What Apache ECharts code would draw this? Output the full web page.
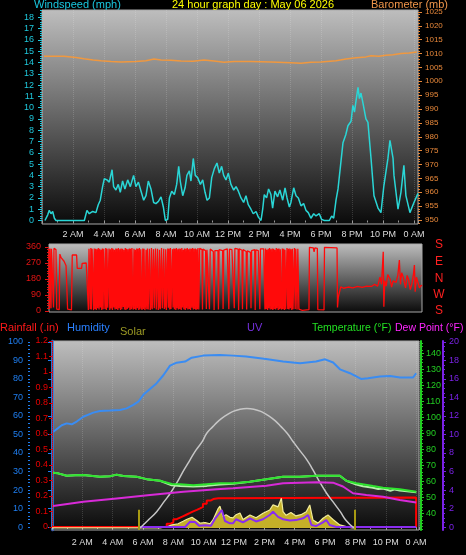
<!DOCTYPE html>
<html><head><meta charset="utf-8">
<script src="https://cdn.jsdelivr.net/npm/echarts@6/dist/echarts.min.js"></script>
<style>html,body{margin:0;padding:0;background:#000;}#c{width:466px;height:555px;}</style>
</head><body><div id="c"></div><script>
// ---- tick labels ----
const hourLabels = ['2 AM','4 AM','6 AM','8 AM','10 AM','12 PM','2 PM','4 PM','6 PM','8 PM','10 PM','0 AM'];
const windLabels = [0,1,2,3,4,5,6,7,8,9,10,11,12,13,14,15,16,17,18];
const baroLabels = [950,955,960,965,970,975,980,985,990,995,1000,1005,1010,1015,1020,1025];
const dirLabels = [0,90,180,270,360];
const dirLetters = ['S','E','N','W','S'];
const humLabels = [0,10,20,30,40,50,60,70,80,90,100];
const rainLabels = [0,0.1,0.2,0.3,0.4,0.5,0.6,0.7,0.8,0.9,1,1.1,1.2];
const tempLabels = [40,50,60,70,80,90,100,110,120,130,140];
const uvLabels = [0,2,4,6,8,10,12,14,16,18,20];

// ---- series values [hour, value] ----
const windSpeed = [[0.19,0],[0.37,0.5],[0.47,0.9],[0.58,0.6],[0.69,0.8],[0.80,0.2],[0.90,0],[2.73,0],[2.90,0.9],[3.05,0.6],[3.27,0.8],[3.48,0.7],[3.63,1.4],[3.76,1.8],[3.91,3.0],[4.02,3.7],[4.19,3.6],[4.34,3.4],[4.52,4.5],[4.62,3.0],[4.77,2.7],[4.92,3.2],[5.05,2.5],[5.20,3.5],[5.35,2.8],[5.53,3.6],[5.70,3.0],[5.91,4.0],[6.06,3.0],[6.22,3.4],[6.39,2.6],[6.56,1.8],[6.71,2.2],[6.86,3.5],[7.03,2.8],[7.20,1.6],[7.35,1.5],[7.51,1.7],[7.68,2.1],[7.83,1.2],[7.96,0],[8.11,0.1],[8.22,2.0],[8.37,2.6],[8.54,2.3],[8.69,3.2],[8.82,4.8],[8.92,3.5],[9.08,2.2],[9.23,2.9],[9.35,4.0],[9.51,4.4],[9.61,3.5],[9.76,5.5],[9.89,4.0],[10.04,3.8],[10.22,3.2],[10.37,3.6],[10.52,2.5],[10.65,1.8],[10.80,2.0],[10.95,3.8],[11.12,4.6],[11.29,5.1],[11.44,4.2],[11.59,4.8],[11.72,4.0],[11.87,3.6],[12.02,4.2],[12.19,3.2],[12.37,2.7],[12.52,3.0],[12.67,2.6],[12.84,2.0],[13.01,1.6],[13.16,2.2],[13.31,1.4],[13.48,1.0],[13.63,0.6],[13.81,0.8],[13.96,0.3],[14.13,0],[14.24,1.0],[14.34,2.3],[14.49,2.0],[14.62,2.8],[14.77,2.3],[14.88,1.1],[15.03,2.6],[15.20,2.1],[15.35,2.7],[15.53,1.8],[15.68,2.9],[15.81,2.0],[15.96,1.2],[16.06,1.6],[16.24,2.9],[16.39,2.2],[16.54,2.0],[16.71,1.3],[16.88,1.5],[17.03,0.9],[17.18,0.7],[17.35,0.2],[17.53,0.6],[17.68,0.4],[17.89,0.6],[18.04,0.1],[18.22,0],[18.54,0],[18.69,0.4],[18.82,0.2],[18.97,1.8],[19.10,2.8],[19.42,6.9],[19.60,7.6],[19.74,8.4],[19.94,8.8],[20.06,10.2],[20.16,9.6],[20.26,10.6],[20.39,11.8],[20.48,10.8],[20.58,11.3],[20.71,10.4],[20.90,9.0],[21.03,8.7],[21.23,5.5],[21.42,2.2],[21.68,1.1],[21.87,0.7],[22.06,3.1],[22.32,5.5],[22.45,7.1],[22.65,5.5],[22.71,4.0],[22.97,1.0],[23.16,2.5],[23.35,4.9],[23.48,2.2],[23.74,0.7],[24.00,1.6],[24.26,2.4]];

const barometer = [[0.13,1009.0],[1.42,1009.0],[2.2,1008.6],[2.71,1008.1],[3.3,1007.7],[3.81,1007.4],[4.45,1007.1],[5.1,1007.0],[6.06,1007.1],[6.7,1007.4],[7.23,1008.0],[7.68,1007.7],[8.32,1007.6],[8.97,1007.3],[9.74,1007.2],[10.45,1007.7],[11.1,1007.3],[11.74,1006.9],[12.39,1007.1],[13.48,1007.1],[14.77,1007.0],[16.06,1006.7],[16.71,1006.5],[17.35,1006.9],[18.0,1007.0],[18.97,1007.4],[19.61,1008.0],[20.26,1008.5],[20.9,1008.8],[21.23,1009.2],[21.74,1009.0],[22.19,1009.4],[22.65,1009.6],[23.16,1010.0],[23.68,1010.2],[24.19,1010.6]];

const windDir = [[0.00,350],[0.03,12],[0.06,352],[0.10,345],[0.13,15],[0.16,350],[0.26,340],[0.29,20],[0.32,352],[0.45,345],[0.50,10],[0.66,8],[0.70,320],[0.78,300],[0.90,296],[0.97,280],[1.10,255],[1.16,250],[1.20,10],[1.45,6],[1.50,315],[1.78,315],[1.82,240],[2.10,240],[2.14,268],[2.40,270],[2.48,280],
[2.54,6],[2.58,350],[2.62,352],[2.66,10],[2.70,355],[2.74,8],[2.78,350],[2.84,345],[2.88,5],[2.92,352],[2.97,12],[3.01,350],[3.05,6],[3.10,348],[3.14,15],[3.18,355],[3.23,8],[3.27,350],[3.32,20],[3.36,345],[3.40,6],[3.44,352],[3.49,10],[3.53,350],[3.57,340],[3.61,12],[3.66,355],[3.70,5],[3.74,350],[3.79,18],[3.83,8],[3.87,352],[3.92,6],[3.96,348],[4.00,14],[4.05,355],[4.09,5],[4.13,350],[4.18,20],[4.22,345],[4.26,8],[4.31,352],[4.35,12],[4.39,350],[4.44,6],[4.48,355],[4.52,15],[4.57,348],[4.61,5],[4.65,352],[4.70,10],[4.74,350],[4.79,22],[4.83,345],[4.87,8],[4.92,355],[4.96,6],[5.00,350],[5.05,12],[5.09,348],[5.13,18],[5.18,352],[5.22,5],[5.26,350],[5.31,10],[5.35,355],[5.40,25],[5.44,8],[5.48,350],[5.53,12],[5.57,345],[5.61,6],[5.66,352],[5.70,15],[5.74,350],[5.79,5],[5.83,355],[5.87,10],[5.92,348],[5.96,20],[6.00,6],[6.05,352],[6.09,12],[6.13,350],[6.18,5],[6.22,25],[6.26,345],[6.31,10],[6.35,352],[6.40,8],[6.44,15],[6.48,350],[6.53,6],[6.57,20],[6.61,355],[6.66,10],[6.70,5],[6.74,348],[6.79,15],[6.83,25],[6.87,352],[6.92,8],[6.96,12],[7.00,350],[7.05,6],[7.09,20],[7.13,345],[7.18,10],[7.22,5],[7.26,355],[7.31,15],[7.35,8],[7.40,350],[7.44,12],[7.48,25],[7.53,348],[7.57,6],[7.61,10],[7.66,352],[7.70,18],[7.74,350],[7.79,8],[7.83,355],[7.87,12],[7.92,5],[7.96,348],[8.00,20],[8.05,352],[8.09,10],[8.13,350],[8.18,6],[8.22,355],[8.26,15],[8.31,348],[8.35,8],[8.39,352],[8.44,12],[8.48,350],[8.53,5],[8.57,355],[8.61,20],[8.66,345],[8.70,10],[8.74,352],[8.79,6],[8.83,350],[8.87,15],[8.92,355],[8.96,8],[9.00,348],[9.05,12],[9.09,352],[9.13,5],[9.18,350],[9.22,18],[9.26,355],[9.31,8],[9.35,350],[9.40,12],[9.44,352],[9.48,6],[9.53,348],[9.57,10],[9.61,355],[9.66,8],[9.72,352],
[9.87,345],[9.90,8],[9.93,348],[10.1,340],[10.15,12],[10.19,345],[10.3,350],[10.35,10],[10.4,348],[10.6,335],[10.65,6],[10.7,340],[10.9,340],[10.93,8],[10.97,345],[11.2,340],[11.23,12],[11.27,342],[11.5,350],[11.6,10],[11.64,348],[11.8,345],[11.95,15],[11.99,352],[12.2,348],[12.23,6],[12.27,350],[12.45,342],[12.48,10],[12.52,345],[12.72,335],[12.75,8],[12.79,338],[13.0,330],[13.03,15],[13.07,340],[13.27,345],[13.3,6],[13.34,344],[13.5,340],[13.6,10],[13.64,350],[13.85,350],
[13.90,348],[13.93,8],[13.97,352],[14.01,12],[14.05,345],[14.10,6],[14.14,350],[14.18,15],[14.23,355],[14.27,8],[14.31,348],[14.36,10],[14.40,352],[14.44,5],[14.49,350],[14.53,12],[14.57,345],[14.62,8],[14.66,355],[14.70,15],[14.75,350],[14.79,6],[14.83,352],[14.88,10],[14.92,348],[14.96,20],[15.01,8],[15.05,352],[15.09,12],[15.14,350],[15.18,5],[15.22,345],[15.27,10],[15.31,6],[15.35,355],[15.40,12],[15.44,350],[15.48,8],[15.53,352],[15.57,15],[15.61,348],[15.66,6],[15.70,350],[15.74,10],[15.79,5],[15.83,355],[15.88,12],[15.92,350],[15.98,340],[16.00,8],[16.05,350],[16.09,345],[16.12,10],[16.34,4],[16.38,6],[16.77,8],[16.8,358],[17.05,355],[17.1,333],[17.15,355],[17.31,352],[17.34,8],[17.74,6],[17.77,358],[18.58,355],[18.61,20],[18.66,75],[18.72,100],[18.82,136],[19.0,128],[19.3,135],[19.6,130],[19.9,138],[20.2,133],[20.5,140],[20.8,138],[21.0,150],[21.09,156],[21.2,140],[21.35,190],[21.45,150],[21.56,333],[21.6,24],[21.66,170],[21.75,140],[21.85,205],[22.0,180],[22.1,135],[22.2,170],[22.38,160],[22.5,200],[22.6,287],[22.67,150],[22.75,215],[22.85,190],[23.0,130],[23.1,200],[23.2,175],[23.3,120],[23.4,150],[23.5,200],[23.57,258],[23.62,108],[23.7,190],[23.8,160],[23.9,130],[24.0,145],[24.06,140]];

const humidity = [[0.09,51.5],[0.64,55],[0.97,56],[1.3,55.5],[1.63,57],[2.06,59.6],[2.72,61.8],[3.16,62.7],[3.82,62.9],[4.48,63.2],[4.92,64.1],[5.36,66],[5.69,67.7],[6.02,71.4],[6.46,74.6],[6.9,77.7],[7.34,82],[7.78,87.2],[8.22,88.8],[8.77,89.4],[9.21,91.5],[9.97,92.6],[11.07,93],[11.93,92.6],[12.79,92.1],[14.1,90.8],[15.23,89.4],[16.35,88.5],[17.4,89.4],[18.0,90.6],[18.53,88.9],[18.98,85.2],[19.64,83.1],[20.37,80],[20.83,80.4],[21.62,81.3],[22.28,81.6],[22.94,80.8],[23.8,80.8],[24.0,83.1]];

const temperature = [[0.07,65.4],[0.4,65],[0.97,63.5],[1.52,63.8],[2.06,64],[3.16,62.9],[3.82,63.2],[4.26,64.2],[4.7,63.3],[5.58,62.9],[6.24,61.4],[7.12,60.4],[7.89,58.4],[8.44,58.2],[9.31,57.6],[10.2,58.2],[11.07,58.8],[11.93,58.8],[13.03,59.8],[14.13,61.3],[15.23,62.9],[16.33,62.9],[17.42,63.5],[18.97,63.5],[19.4,60.4],[20.06,58.8],[21.16,57.1],[21.82,56.1],[22.92,55.1],[24.01,53.6]];

const feelsLike = [[0.07,65.4],[0.4,65],[0.97,63.5],[1.52,63.8],[2.06,64],[3.16,62.9],[3.82,63.2],[4.26,64.2],[4.7,63.3],[5.58,62.9],[6.24,61.4],[7.12,60.4],[7.89,57.6],[8.44,57.2],[9.31,56.8],[10.2,57.2],[11.07,58.0],[11.93,58.5],[13.03,59.8],[14.13,61.3],[15.23,62.9],[16.33,62.9],[17.42,63.5],[18.97,63.5],[19.4,60.4],[20.06,58.0],[20.5,57.0],[21.16,56.0],[21.5,55.2],[21.82,55.5],[22.3,54.2],[22.6,55.0],[22.92,54.3],[23.4,53.8],[24.01,53.2]];

const dewPoint = [[0.07,44.7],[2.06,47.3],[4.26,49.4],[6.46,51.5],[8.66,53.6],[10.86,55.1],[11.93,55.7],[14.13,57.3],[15.23,58.8],[17.42,59.4],[18.52,59.2],[19.18,56.8],[19.84,52.6],[20.72,51.5],[21.82,50.4],[22.92,48.4],[24.01,46.9]];

const rainfall = [[0,0],[7.23,0],[7.56,0.02],[7.8,0.03],[8.0,0.05],[8.22,0.06],[8.44,0.07],[8.66,0.08],[8.88,0.09],[9.1,0.1],[9.31,0.11],[9.55,0.12],[9.76,0.13],[9.95,0.15],[10.2,0.17],[10.45,0.18],[10.63,0.185],[10.96,0.19],[24.0,0.19],[24.0,0]];

const solar = [[0,0],[7.12,0],[7.56,10],[7.91,25],[8.31,35],[8.64,55],[8.9,72],[9.23,89],[9.56,60],[9.76,40],[10.09,45],[10.42,35],[10.61,66],[10.96,163],[11.07,180],[11.27,94],[11.47,110],[11.73,88],[11.93,83],[12.13,110],[12.39,124],[12.59,70],[13.05,108],[13.45,85],[13.91,122],[14.35,149],[14.57,191],[14.9,175],[15.12,246],[15.23,135],[15.43,105],[15.75,128],[16.08,100],[16.41,110],[16.76,135],[16.99,191],[17.2,66],[17.53,40],[17.86,80],[18.19,108],[18.52,70],[18.97,25],[19.4,11],[19.78,0],[19.9,0]];

const solarMax = [[5.8,0],[6.3,60],[6.9,135],[7.4,220],[7.8,288],[8.3,390],[8.7,481],[9.1,565],[9.5,647],[9.9,715],[10.2,785],[10.6,840],[11.0,890],[11.5,935],[11.9,964],[12.4,985],[12.85,991],[13.3,985],[13.8,964],[14.2,935],[14.7,890],[15.1,840],[15.5,785],[15.9,715],[16.3,647],[16.8,565],[17.2,481],[17.6,390],[18.1,288],[18.5,220],[19.0,135],[19.4,60],[19.9,0]];

const sunTimes = [5.73, 19.97];

const uvIndex = [[5.8,0],[8.77,0],[8.9,0.2],[9.1,0.57],[9.43,0.55],[9.69,0.15],[10.09,0.2],[10.48,0.15],[10.75,0.9],[10.94,1.3],[11.19,1.84],[11.4,0.65],[11.73,0.4],[11.93,0.4],[12.13,0.84],[12.59,0.5],[13.05,0.94],[13.45,0.6],[13.91,0.84],[14.35,1.3],[14.57,1.66],[14.9,1.1],[15.23,0.84],[15.67,0.7],[16.08,0.75],[16.55,0.94],[16.88,1.3],[17.1,0.22],[17.4,0.1],[17.86,0.5],[18.08,0.76],[18.3,0.22],[18.74,0],[24,0]];

// ---- helpers ----
const FONT = 'Liberation Sans';
function steps(a, b, s) { const r = []; for (let i = 0; a + i * s <= b + 1e-9; i++) r.push(+(a + i * s).toFixed(3)); return r; }
const fmt = v => String(v);
function bg() {
  return new echarts.graphic.LinearGradient(0, 0, 0, 1, [{offset: 0, color: '#bebebe'}, {offset: 1, color: '#0a0a0a'}]);
}
function yMain(o) {
  const c = o.color;
  return {
    type: 'value', gridIndex: o.grid, position: o.pos, offset: o.offset || 0, min: o.min, max: o.max,
    splitLine: {show: false},
    axisLine: o.line ? {show: true, lineStyle: Object.assign({color: c}, o.line)} : {show: false},
    axisTick: {show: true, customValues: o.labels, length: o.tick || 4, lineStyle: {color: c}},
    axisLabel: {show: true, customValues: o.labels, color: o.labelColor || c, fontSize: o.fs || 9, fontFamily: FONT, margin: o.margin, formatter: fmt}
  };
}
function yMinor(o) {
  return {
    type: 'value', gridIndex: o.grid, position: o.pos, offset: o.offset || 0, min: o.min, max: o.max,
    splitLine: {show: false}, axisLine: {show: false}, axisLabel: {show: false},
    axisTick: {show: true, customValues: o.vals, length: 2, lineStyle: {color: o.color}}
  };
}
function xAx(grid, max, showLabels, margin) {
  return {
    type: 'value', gridIndex: grid, min: 0, max: max, interval: 2,
    axisLine: {show: false},
    axisTick: {show: showLabels, length: 3, lineStyle: {color: '#9a9a9a'}},
    minorTick: {show: showLabels, splitNumber: 2, length: 2, lineStyle: {color: '#9a9a9a'}},
    splitLine: {show: showLabels, lineStyle: {color: 'rgba(255,255,255,0.16)', type: 'dotted'}},
    axisLabel: {show: showLabels, color: '#dcdcdc', fontSize: 9, fontFamily: FONT, margin: margin,
      formatter: v => (v > 0 && v <= 24 && Math.abs(v % 2) < 1e-6) ? hourLabels[v / 2 - 1] : ''}
  };
}

const W = {min: -0.31, max: 18.66};
const B = {min: 948.56, max: 1025.7};
const D = {min: -5.6, max: 376.9};
const H = {min: -1.6, max: 100.5};
const R = {min: -0.02, max: 1.2};
const T = {min: 29.7, max: 147.5};
const U = {min: -0.32, max: 20.1};

const yAxis = [
  yMain({grid: 0, pos: 'left', min: W.min, max: W.max, labels: windLabels, color: '#1fc8dc', margin: 8}),           //0
  yMinor({grid: 0, pos: 'left', min: W.min, max: W.max, vals: steps(0, 18.6, 0.2), color: '#1fc8dc'}),             //1
  yMain({grid: 0, pos: 'right', min: B.min, max: B.max, labels: baroLabels, color: '#e8883a', margin: 7, fs: 8}),   //2
  yMinor({grid: 0, pos: 'right', min: B.min, max: B.max, vals: steps(949, 1025, 1), color: '#e8883a'}),           //3
  yMain({grid: 1, pos: 'left', min: D.min, max: D.max, labels: dirLabels, color: '#e41414', margin: 8}),            //4
  yMinor({grid: 1, pos: 'left', min: D.min, max: D.max, vals: steps(0, 360, 15), color: '#e41414'}),               //5
  yMain({grid: 2, pos: 'left', offset: 22, min: H.min, max: H.max, labels: humLabels, color: '#1f7ff2', margin: 7, line: {width: 2.5}}), //6
  yMinor({grid: 2, pos: 'left', offset: 22, min: H.min, max: H.max, vals: steps(0, 100, 2), color: '#1f7ff2'}),    //7
  yMain({grid: 2, pos: 'left', min: R.min, max: R.max, labels: rainLabels, color: '#e00000', labelColor: '#e80000', margin: 4, tick: 3, line: {width: 1, type: 'dotted'}}), //8
  yMain({grid: 2, pos: 'right', offset: 2, min: T.min, max: T.max, labels: tempLabels, color: '#22cc22', margin: 5, tick: 3, line: {width: 2}}), //9
  yMinor({grid: 2, pos: 'right', offset: 2, min: T.min, max: T.max, vals: steps(30, 146, 2), color: '#22cc22'}),   //10
  yMain({grid: 2, pos: 'right', offset: 24, min: U.min, max: U.max, labels: uvLabels, color: '#7a22e6', margin: 6, tick: 3, line: {width: 2}}), //11
  yMinor({grid: 2, pos: 'right', offset: 24, min: U.min, max: U.max, vals: steps(0, 20, 0.5), color: '#7a22e6'}),  //12
  {type: 'value', gridIndex: 2, min: -17, max: 1550, show: false}                                                  //13
];

const line = (name, xi, yi, data, color, width, extra) => Object.assign({
  name, type: 'line', xAxisIndex: xi, yAxisIndex: yi, data, showSymbol: false, symbol: 'none',
  lineStyle: {color, width}, itemStyle: {color}, silent: true
}, extra || {});

const option = {
  backgroundColor: '#000',
  animation: false,
  grid: [
    {left: 42, top: 10, width: 376, height: 214, show: true, backgroundColor: bg(), borderColor: '#a8a8a8', borderWidth: 1, outerBoundsMode: 'none', containLabel: false},
    {left: 49, top: 244, width: 373, height: 68, show: true, backgroundColor: bg(), borderColor: '#a8a8a8', borderWidth: 1, outerBoundsMode: 'none', containLabel: false},
    {left: 52, top: 341, width: 367, height: 189, show: true, backgroundColor: bg(), borderColor: '#a8a8a8', borderWidth: 1, outerBoundsMode: 'none', containLabel: false}
  ],
  xAxis: [xAx(0, 24.26, true, 6), xAx(1, 24.06, false, 0), xAx(2, 24.19, true, 8)],
  yAxis: yAxis,
  series: [
    line('Windspeed', 0, 0, windSpeed, '#2ad6d6', 1.5),
    line('Barometer', 0, 2, barometer, '#f0983f', 1.5),
    line('Direction', 1, 4, windDir, '#ff0a0a', 1.3),
    line('Rainfall', 2, 8, rainfall, '#ff0000', 2, {step: 'end', z: 2}),
    line('Solar', 2, 13, solar, '#f2ec9a', 1.2, {z: 3, areaStyle: {color: '#c4b028', opacity: 1},
      markLine: {silent: true, symbol: ['none', 'none'], label: {show: false}, lineStyle: {color: '#a89a12', width: 2, type: 'solid'},
        data: sunTimes.map(t => [{coord: [t, -17]}, {coord: [t, 150]}])}}),
    line('UV', 2, 11, uvIndex, '#8a2cf0', 2, {z: 4}),
    line('SolarMax', 2, 13, solarMax, '#c6c6c6', 1.5, {z: 4, smooth: true}),
    line('FeelsLike', 2, 9, feelsLike, '#b4f2a8', 2, {z: 5}),
    line('Temperature', 2, 9, temperature, '#2ee42e', 2, {z: 6}),
    line('DewPoint', 2, 9, dewPoint, '#d82ad8', 2, {z: 6}),
    line('Humidity', 2, 6, humidity, '#3a8cf2', 2, {z: 7})
  ],
  graphic: [
    {type: 'text', x: 34, y: 5, style: {text: 'Windspeed (mph)', fill: '#19c8e0', font: '11px "Liberation Sans"', verticalAlign: 'middle'}},
    {type: 'text', x: 172, y: 5, style: {text: '24 hour graph day : May 06 2026', fill: '#ffff00', font: '11px "Liberation Sans"', verticalAlign: 'middle'}},
    {type: 'text', x: 371, y: 5, style: {text: 'Barometer (mb)', fill: '#f0964a', font: '11px "Liberation Sans"', verticalAlign: 'middle'}},
    {type: 'text', x: 0, y: 328, style: {text: 'Rainfall (.in)', fill: '#ff1a1a', font: '11px "Liberation Sans"', verticalAlign: 'middle'}},
    {type: 'text', x: 67, y: 328, style: {text: 'Humidity', fill: '#2a80ff', font: '11px "Liberation Sans"', verticalAlign: 'middle'}},
    {type: 'text', x: 120, y: 332, style: {text: 'Solar', fill: '#9c9a24', font: '11px "Liberation Sans"', verticalAlign: 'middle'}},
    {type: 'text', x: 247, y: 328, style: {text: 'UV', fill: '#7430dc', font: '11px "Liberation Sans"', verticalAlign: 'middle'}},
    {type: 'text', x: 312, y: 328, style: {text: 'Temperature (°F)', fill: '#22e022', font: '10.5px "Liberation Sans"', verticalAlign: 'middle'}},
    {type: 'text', x: 395, y: 328, style: {text: 'Dew Point (°F)', fill: '#ff26ff', font: '10.5px "Liberation Sans"', verticalAlign: 'middle'}}
  ].concat(dirLetters.map((t, i) => ({type: 'text', x: 439, y: [245, 262, 278.5, 295, 311][i],
    style: {text: t, fill: '#ff2020', font: '12px "Liberation Sans"', align: 'center', verticalAlign: 'middle'}})))
};

const chart = echarts.init(document.getElementById('c'), null, {renderer: 'canvas'});
chart.setOption(option);
</script></body></html>
